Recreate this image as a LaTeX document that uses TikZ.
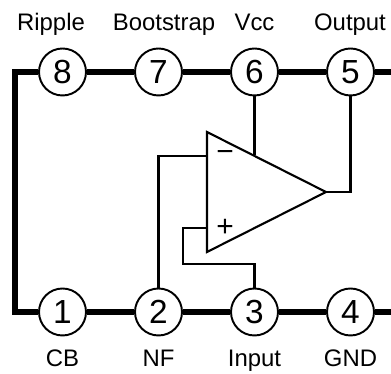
\documentclass[tikz,border=0pt]{standalone}
\usepackage{fontspec}
\setmainfont{Liberation Sans}
\tikzset{
    pin/.style={draw=black, line width=1.1pt, circle, inner sep=0pt, minimum size=0.94cm, font=\fontsize{19}{19}\selectfont},
    pinlabel/.style={anchor=base, inner sep=0pt, font=\fontsize{13.6}{15}\selectfont},
    ampsign/.style={inner sep=0pt, font=\fontsize{17}{18}\selectfont},
    bus/.style={black, line width=3pt},
    wire/.style={black, line width=1.2pt}
}
\begin{document}
\begin{tikzpicture}
    \useasboundingbox (0, 0) rectangle (7.82, 7.48);

    % package pins
    \node[pin] (pin8) at (1.25, 6.04) {8};
    \node[pin] (pin7) at (3.17, 6.04) {7};
    \node[pin] (pin6) at (5.09, 6.04) {6};
    \node[pin] (pin5) at (7.01, 6.04) {5};
    \node[pin] (pin1) at (1.25, 1.24) {1};
    \node[pin] (pin2) at (3.17, 1.24) {2};
    \node[pin] (pin3) at (5.09, 1.24) {3};
    \node[pin] (pin4) at (7.01, 1.24) {4};

    \node[pinlabel] (ripple) at (1.02, 6.86) {Ripple};
    \node[pinlabel] (bootstrap) at (3.28, 6.86) {Bootstrap};
    \node[pinlabel] (vcc) at (5.09, 6.86) {Vcc};
    \node[pinlabel] (output) at (7.00, 6.86) {Output};
    \node[pinlabel] (cb) at (1.25, 0.14) {CB};
    \node[pinlabel] (nf) at (3.17, 0.14) {NF};
    \node[pinlabel] (input) at (5.09, 0.14) {Input};
    \node[pinlabel] (gnd) at (7.01, 0.14) {GND};

    % package outline
    \coordinate (topleft) at (0.30, 6.04);
    \coordinate (botleft) at (0.30, 1.24);
    \coordinate (topright) at (7.82, 6.04);
    \coordinate (botright) at (7.82, 1.24);
    \draw[bus] (pin8) -- (topleft) -- (botleft) -- (pin1);
    \draw[bus] (pin8) -- (pin7);
    \draw[bus] (pin7) -- (pin6);
    \draw[bus] (pin6) -- (pin5);
    \draw[bus] (pin5) -- (topright);
    \draw[bus] (pin1) -- (pin2);
    \draw[bus] (pin2) -- (pin3);
    \draw[bus] (pin3) -- (pin4);
    \draw[bus] (pin4) -- (botright);

    % amplifier
    \coordinate (amptop) at (4.14, 4.84);
    \coordinate (ampbot) at (4.14, 2.44);
    \coordinate (ampout) at (6.52, 3.64);
    \coordinate (ampvcc) at (5.09, 4.37);
    \coordinate (ampneg) at (4.14, 4.36);
    \coordinate (amppos) at (4.14, 2.92);
    \draw[wire, line join=miter] (amptop) -- (ampout) -- (ampbot) -- cycle;
    \node[ampsign] (minus) at (4.50, 4.36) {−};
    \node[ampsign] (plus) at (4.50, 2.92) {+};

    \draw[wire] (pin6) -- (ampvcc);
    \draw[wire] (ampout) -| (pin5);
    \draw[wire] (ampneg) -| (pin2);
    \draw[wire] (amppos) -- (3.66, 2.92) |- (5.09, 2.20) -- (pin3);
\end{tikzpicture}
\end{document}
